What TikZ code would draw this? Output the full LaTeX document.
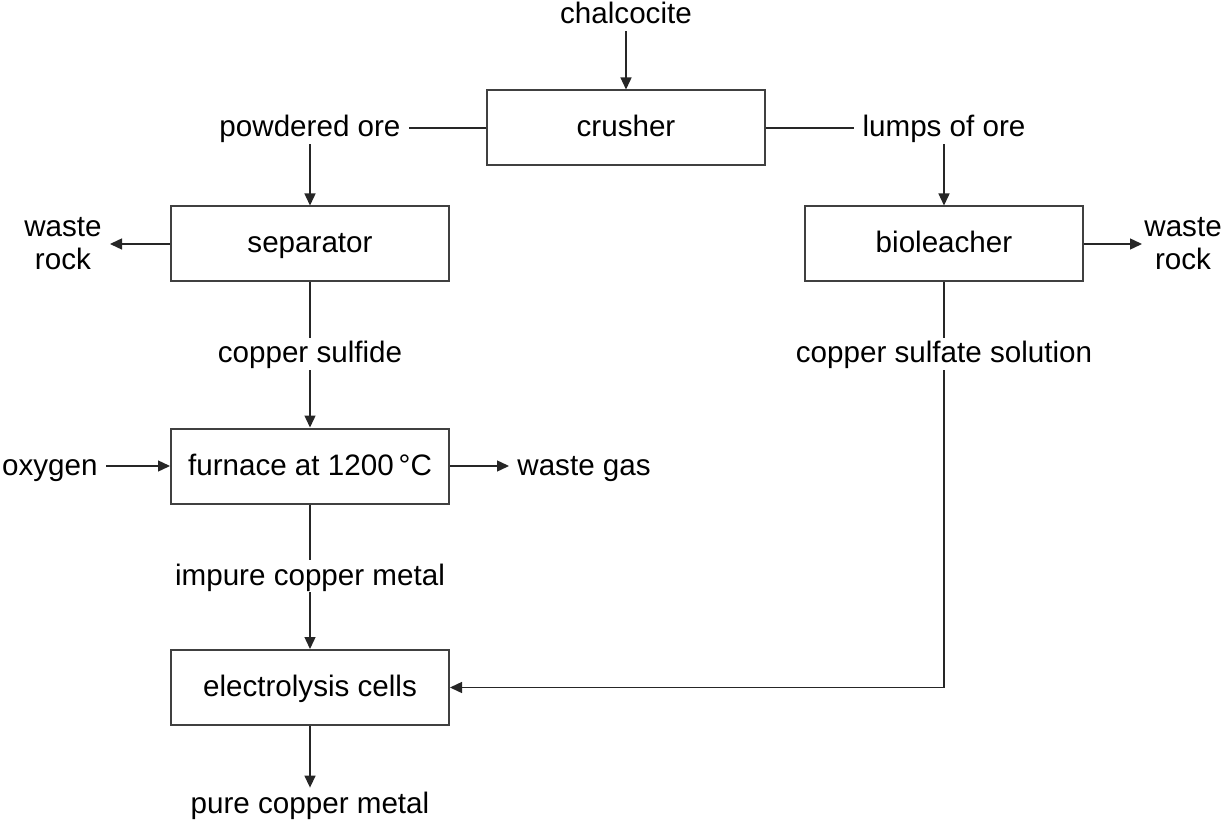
\documentclass[tikz,border=0pt]{standalone}
\usepackage{fontspec}
\setmainfont{Liberation Sans}
\usetikzlibrary{positioning,arrows.meta}

\begin{document}
\begin{tikzpicture}[x=0.5pt,y=-0.5pt,>={Triangle[length=6pt,width=5.5pt]},
  font=\fontsize{14.8pt}{16.5pt}\selectfont,
  box/.style={draw=black!75,line width=1pt,minimum width=139pt,minimum height=37.5pt,text height=11pt,text depth=2pt},
  lbl/.style={inner xsep=4pt,inner ysep=1.5pt,text height=11pt,text depth=2pt},
  waste/.style={align=center,inner xsep=4pt},
  flow/.style={line width=0.7pt,draw=black!85}]
  \useasboundingbox (0,0) rectangle (1225,823);
  \node[box](crusher) at (626,128){crusher};
  \node[box](sep) at (310,244){separator};
  \node[box](bio) at (944,244){bioleacher};
  \node[box](furn) at (310,466){furnace at 1200\,°C};
  \node[box](elec) at (310,687.5){electrolysis cells};
  \node[lbl](chalc) at (626,15){chalcocite};
  \node[lbl](powd) at (310,128){powdered ore};
  \node[lbl](lumps) at (944,128){lumps of ore};
  \node[lbl](cus) at (310,354){copper sulfide};
  \node[lbl](cuso4) at (944,354){copper sulfate solution};
  \node[lbl](imp) at (310,576){impure copper metal};
  \node[lbl](pure) at (310,804){pure copper metal};
  \node[lbl,left=32pt of furn](oxy){oxygen};
  \node[lbl,right=29.5pt of furn](wgas){waste gas};
  \node[waste,left=30pt of sep](wr1){waste\\rock};
  \node[waste,right=29pt of bio,inner xsep=1pt](wr2){waste\\rock};
  \draw[flow,->](chalc)--(crusher);
  \draw[flow](crusher)--(powd);\draw[flow,->](powd)--(sep);
  \draw[flow](crusher)--(lumps);\draw[flow,->](lumps)--(bio);
  \draw[flow,->](sep)--(wr1);\draw[flow,->](bio)--(wr2);
  \draw[flow](sep)--(cus);\draw[flow,->](cus)--(furn);
  \draw[flow,->](oxy)--(furn);\draw[flow,->](furn)--(wgas);
  \draw[flow](furn)--(imp);\draw[flow,->](imp)--(elec);
  \draw[flow,->](elec)--(pure);
  \draw[flow](bio)--(cuso4);\draw[flow,->](cuso4)|-(elec);
\end{tikzpicture}
\end{document}
